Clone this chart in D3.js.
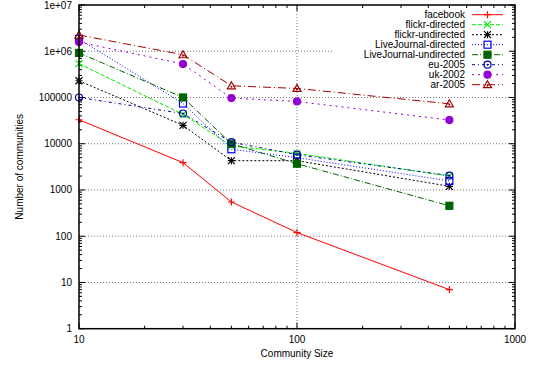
<!DOCTYPE html>
<html>
<head>
<meta charset="utf-8">
<script src="https://cdn.jsdelivr.net/npm/d3@7"></script>
<style>
  body { margin: 0; background: #fff; }
  text { font-family: "Liberation Sans", Arial, sans-serif; font-size: 10px; fill: #000; }
</style>
</head>
<body>
<div id="chart"></div>
<script>
// community sizes on x
var sizes = [10, 30, 50, 100, 500];

var facebook          = [33000, 3900, 550, 120, 7];
var flickrDirected    = [540000, 43000, 9000, 6200, 2000];
var flickrUndirected  = [230000, 25000, 4300, 4300, 1200];
var ljDirected        = [1850000, 74000, 7600, 5000, 1570];
var ljUndirected      = [920000, 100000, 10000, 3700, 455];
var eu2005            = [100000, 45000, 10800, 5800, 2050];
var uk2002            = [1580000, 530000, 97000, 82000, 32500];
var ar2005            = [2240000, 840000, 179000, 157000, 73000];

var yTickLabels = ["1", "10", "100", "1000", "10000", "100000", "1e+06", "1e+07"];
var xTickLabels = ["10", "100", "1000"];

var series = [
  {name: "facebook", values: facebook, color: "#ff0000", dash: null, mark: "plus"},
  {name: "flickr-directed", values: flickrDirected, color: "#00ee00", dash: "4,2", mark: "cross"},
  {name: "flickr-undirected", values: flickrUndirected, color: "#000000", dash: "2,2", mark: "star"},
  {name: "LiveJournal-directed", values: ljDirected, color: "#0000ff", dash: "1,2", mark: "box"},
  {name: "LiveJournal-undirected", values: ljUndirected, color: "#006400", dash: "6,2,1,2", mark: "fbox"},
  {name: "eu-2005", values: eu2005, color: "#0000a0", dash: "3,3,1,3", mark: "dotcircle"},
  {name: "uk-2002", values: uk2002, color: "#9400d3", dash: "2,4", mark: "fcircle"},
  {name: "ar-2005", values: ar2005, color: "#a00000", dash: "8,3,1,3", mark: "triangle"}
];

var W = 544, H = 367;
var pLeft = 79, pRight = 515, pTop = 5, pBottom = 328.7;

var svg = d3.select("#chart").append("svg")
  .attr("width", W).attr("height", H);

var x = d3.scaleLog().domain([10, 1000]).range([pLeft, pRight]);
var y = d3.scaleLog().domain([1, 1e7]).range([pBottom, pTop]);

// grid
var yMajors = yTickLabels.map(function(d, i) { return Math.pow(10, i); });
var xMajors = [10, 100, 1000];

svg.append("g").selectAll("line").data(yMajors.slice(1, -1)).enter().append("line")
  .attr("x1", pLeft).attr("x2", pRight)
  .attr("y1", function(d) { return y(d); }).attr("y2", function(d) { return y(d); })
  .attr("stroke", "#777").attr("stroke-width", 1).attr("stroke-dasharray", "1,2");
svg.append("line")
  .attr("x1", x(100)).attr("x2", x(100)).attr("y1", pTop).attr("y2", pBottom)
  .attr("stroke", "#777").attr("stroke-width", 1).attr("stroke-dasharray", "1,2");

// key background hides the grid behind it
svg.append("rect").attr("x", 332).attr("y", pTop + 1).attr("width", pRight - 333).attr("height", 86)
  .attr("fill", "#fff");

// ticks
var ticks = svg.append("g").attr("stroke", "#000").attr("stroke-width", 1);
function minorList(lo, hi) {
  var out = [];
  for (var p = lo; p < hi; p *= 10)
    for (var k = 2; k <= 9; k++) out.push(p * k);
  return out;
}
var yMinor = minorList(1, 1e7), xMinor = minorList(10, 1000);
yMajors.forEach(function(v) {
  ticks.append("line").attr("x1", pLeft).attr("x2", pLeft + 6).attr("y1", y(v)).attr("y2", y(v));
  ticks.append("line").attr("x1", pRight).attr("x2", pRight - 6).attr("y1", y(v)).attr("y2", y(v));
});
yMinor.forEach(function(v) {
  ticks.append("line").attr("x1", pLeft).attr("x2", pLeft + 3).attr("y1", y(v)).attr("y2", y(v));
  ticks.append("line").attr("x1", pRight).attr("x2", pRight - 3).attr("y1", y(v)).attr("y2", y(v));
});
xMajors.forEach(function(v) {
  ticks.append("line").attr("x1", x(v)).attr("x2", x(v)).attr("y1", pBottom).attr("y2", pBottom - 6);
  ticks.append("line").attr("x1", x(v)).attr("x2", x(v)).attr("y1", pTop).attr("y2", pTop + 6);
});
xMinor.forEach(function(v) {
  ticks.append("line").attr("x1", x(v)).attr("x2", x(v)).attr("y1", pBottom).attr("y2", pBottom - 3);
  ticks.append("line").attr("x1", x(v)).attr("x2", x(v)).attr("y1", pTop).attr("y2", pTop + 3);
});

// tick labels
svg.append("g").selectAll("text").data(yTickLabels).enter().append("text")
  .attr("x", 72).attr("y", function(d, i) { return y(yMajors[i]) + 3.5; })
  .attr("text-anchor", "end").text(function(d) { return d; });
svg.append("g").selectAll("text").data(xTickLabels).enter().append("text")
  .attr("x", function(d, i) { return x(xMajors[i]); }).attr("y", 343)
  .attr("text-anchor", "middle").text(function(d) { return d; });

// axis titles
svg.append("text").attr("x", x(100)).attr("y", 357).attr("text-anchor", "middle").text("Community Size");
svg.append("text").attr("transform", "translate(23," + ((pTop + pBottom) / 2) + ") rotate(-90)")
  .attr("text-anchor", "middle").text("Number of communities");

// point symbols
function drawMark(g, type, cx, cy, color) {
  var s = 3.5;
  if (type == "plus" || type == "star") {
    g.append("path").attr("d", "M" + (cx - s) + "," + cy + "H" + (cx + s) + "M" + cx + "," + (cy - s) + "V" + (cy + s))
      .attr("stroke", color).attr("stroke-width", 1.2).attr("fill", "none");
  }
  if (type == "cross" || type == "star") {
    g.append("path").attr("d", "M" + (cx - s) + "," + (cy - s) + "L" + (cx + s) + "," + (cy + s) +
        "M" + (cx - s) + "," + (cy + s) + "L" + (cx + s) + "," + (cy - s))
      .attr("stroke", color).attr("stroke-width", 1.2).attr("fill", "none");
  }
  if (type == "box" || type == "fbox") {
    g.append("rect").attr("x", cx - s).attr("y", cy - s).attr("width", 2 * s).attr("height", 2 * s)
      .attr("stroke", color).attr("stroke-width", 1.2)
      .attr("fill", type == "fbox" ? color : "none");
  }
  if (type == "dotcircle" || type == "fcircle") {
    g.append("circle").attr("cx", cx).attr("cy", cy).attr("r", s)
      .attr("stroke", color).attr("stroke-width", 1.2)
      .attr("fill", type == "fcircle" ? color : "none");
    if (type == "dotcircle")
      g.append("circle").attr("cx", cx).attr("cy", cy).attr("r", 1).attr("fill", color);
  }
  if (type == "triangle") {
    g.append("path").attr("d", "M" + cx + "," + (cy - s - 0.5) + "L" + (cx + s + 0.5) + "," + (cy + s - 0.5) +
        "L" + (cx - s - 0.5) + "," + (cy + s - 0.5) + "Z")
      .attr("stroke", color).attr("stroke-width", 1.2).attr("fill", "none");
    g.append("circle").attr("cx", cx).attr("cy", cy + 1).attr("r", 1).attr("fill", color);
  }
}

var line = d3.line()
  .x(function(d, i) { return x(sizes[i]); })
  .y(function(d) { return y(d); });

series.forEach(function(s, k) {
  var g = svg.append("g");
  g.append("path").datum(s.values).attr("d", line)
    .attr("fill", "none").attr("stroke", s.color).attr("stroke-width", 1)
    .attr("stroke-dasharray", s.dash);
  s.values.forEach(function(v, i) { drawMark(g, s.mark, x(sizes[i]), y(v), s.color); });

  // key entry
  var ky = 14.7 + 10 * k;
  svg.append("text").attr("x", 465).attr("y", ky + 3.5).attr("text-anchor", "end").text(s.name);
  svg.append("line").attr("x1", 472).attr("x2", 503).attr("y1", ky).attr("y2", ky)
    .attr("stroke", s.color).attr("stroke-width", 1).attr("stroke-dasharray", s.dash);
  drawMark(svg.append("g"), s.mark, 487.5, ky, s.color);
});

// border
svg.append("rect").attr("x", pLeft).attr("y", pTop).attr("width", pRight - pLeft).attr("height", pBottom - pTop)
  .attr("fill", "none").attr("stroke", "#000").attr("stroke-width", 1.5);
</script>
</body>
</html>
